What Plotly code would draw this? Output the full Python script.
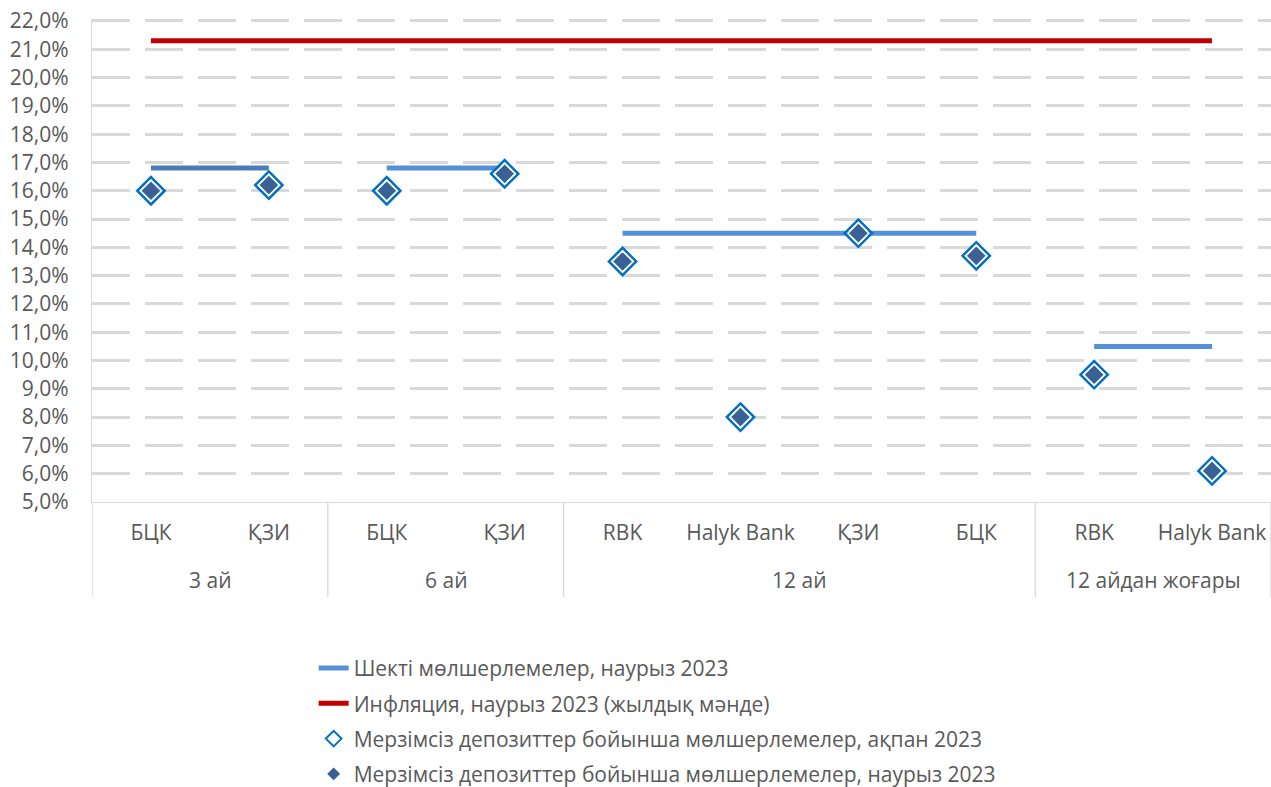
import plotly.graph_objects as go

# ---- data ----
groups = ["3 ай", "3 ай", "6 ай", "6 ай", "12 ай", "12 ай", "12 ай", "12 ай",
          "12 айдан жоғары", "12 айдан жоғары"]
banks = ["БЦК", "ҚЗИ", "БЦК", "ҚЗИ", "RBK", "Halyk Bank", "ҚЗИ", "БЦК", "RBK", "Halyk Bank"]
rates_feb = [16.0, 16.2, 16.0, 16.6, 13.5, 8.0, 14.5, 13.7, 9.5, 6.1]
rates_mar = [16.0, 16.2, 16.0, 16.6, 13.5, 8.0, 14.5, 13.7, 9.5, 6.1]
limit_groups = ["3 ай", "6 ай", "12 ай", "12 айдан жоғары"]
limit_values = [16.8, 16.8, 14.5, 10.5]
inflation_value = 21.3

name_limit = "Шекті мөлшерлемелер, наурыз 2023"
name_infl = "Инфляция, наурыз 2023 (жылдық мәнде)"
name_feb = "Мерзімсіз депозиттер бойынша мөлшерлемелер, ақпан 2023"
name_mar = "Мерзімсіз депозиттер бойынша мөлшерлемелер, наурыз 2023"

FONT = "Open Sans"
TXT = "#595959"
GRID = "#D9D9D9"
FS = 21

# unique category keys (group|bank), displayed as bank names
keys = [f"{g}|{b}" for g, b in zip(groups, banks)]

fig = go.Figure()

fig.add_trace(go.Scatter(
    x=keys, y=[inflation_value] * len(keys),
    mode="lines", line=dict(color="#C00000", width=5),
    name=name_infl, legendgroup="infl", legendrank=2, hoverinfo="skip"))

for i, (g, v) in enumerate(zip(limit_groups, limit_values)):
    kx = [k for gg, k in zip(groups, keys) if gg == g]
    fig.add_trace(go.Scatter(
        x=kx, y=[v] * len(kx), mode="lines",
        line=dict(color="#4A7EBB" if i == 0 else "#5591D9", width=5),
        name=name_limit, legendgroup="limit", legendrank=1,
        showlegend=(i == 1)))

fig.add_trace(go.Scatter(
    x=keys, y=rates_feb, mode="markers",
    marker=dict(symbol="diamond-open", size=21, color="#0070C0",
                line=dict(color="#0070C0", width=2.5)),
    name=name_feb, legendgroup="feb", legendrank=3))

fig.add_trace(go.Scatter(
    x=keys, y=rates_mar, mode="markers",
    marker=dict(symbol="diamond", size=16, color="#3A6195",
                line=dict(color="white", width=1.5)),
    name=name_mar, legendgroup="mar", legendrank=4))

# group labels and dividers of the two-level category axis
unique_groups = []
for g in groups:
    if g not in unique_groups:
        unique_groups.append(g)
annotations = []
shapes = []
bottom = -0.1967
edges = [-0.5]
for g in unique_groups:
    idx = [i for i, gg in enumerate(groups) if gg == g]
    annotations.append(dict(
        x=(idx[0] + idx[-1]) / 2, y=-0.1615, xref="x", yref="paper",
        text=g, showarrow=False, yanchor="middle", xanchor="center",
        font=dict(family=FONT, size=FS, color=TXT)))
    edges.append(idx[-1] + 0.5)
for e in edges:
    shapes.append(dict(type="line", xref="x", yref="paper",
                       x0=e, x1=e, y0=0, y1=bottom,
                       line=dict(color=GRID, width=1.3)))

fig.update_layout(
    width=1271, height=787,
    margin=dict(l=92, r=0, t=19, b=285, autoexpand=False),
    paper_bgcolor="white", plot_bgcolor="white",
    separators=", ",
    font=dict(family=FONT, size=FS, color=TXT),
    showlegend=True,
    legend=dict(
        x=0.188, xanchor="left", y=-0.302, yanchor="top",
        font=dict(family=FONT, size=FS, color=TXT),
        tracegroupgap=5, bgcolor="rgba(0,0,0,0)",
        itemsizing="constant",
    ),
    annotations=annotations,
    shapes=shapes,
)

fig.update_xaxes(
    type="category", tickvals=keys, ticktext=banks,
    range=[-0.5, len(keys) - 0.5],
    showline=True, linecolor=GRID, linewidth=1.3,
    showgrid=False, zeroline=False, automargin=False,
    tickfont=dict(family=FONT, size=FS, color=TXT),
    ticks="", ticklabelstandoff=12, ticklabeloverflow="allow",
)

fig.update_yaxes(
    range=[5, 22.07], dtick=1, tick0=5,
    tickformat=".1f", ticksuffix="%",
    showline=True, linecolor=GRID, linewidth=1.3,
    showgrid=True, gridcolor=GRID, gridwidth=3, griddash="38px,15px",
    zeroline=False, ticks="", automargin=False,
    ticklabelstandoff=18, ticklabeloverflow="allow",
    tickfont=dict(family=FONT, size=FS, color=TXT),
)

# remove the default page margin so the figure fills the window exactly
fig.write_html("out.html",
               config={"displayModeBar": False},
               post_script="document.body.style.margin='0';"
                           "document.body.style.overflow='hidden';")
